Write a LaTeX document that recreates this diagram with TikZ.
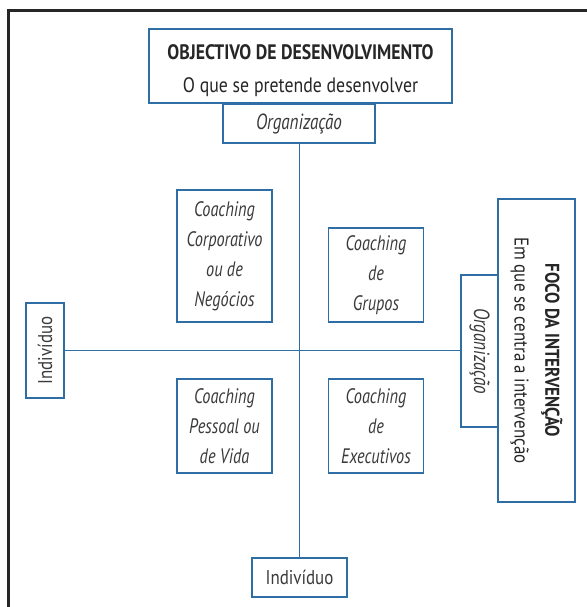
\documentclass[tikz,border=0pt]{standalone}
\usepackage{fontspec}
\setmainfont[FakeStretch=0.85]{PT Sans}
\newfontfamily\quadfont[FakeStretch=0.78]{PT Sans}
\usetikzlibrary{positioning}
\definecolor{boxblue}{HTML}{2F6EA5}
\definecolor{txtgray}{HTML}{3A3A3A}

\begin{document}
\begin{tikzpicture}[x=1bp, y=-1bp,
  box/.style={draw=boxblue, line width=1.5bp, fill=white, text=txtgray, inner sep=0pt, align=center},
  quad/.style={box, minimum width=95bp, minimum height=94bp, font=\quadfont\itshape\fontsize{21}{30}\selectfont},
  indlabel/.style={box, font=\fontsize{20}{29}\selectfont},
  orglabel/.style={box, font=\quadfont\itshape\fontsize{22}{29}\selectfont},
  axis/.style={draw=boxblue, line width=1.5bp}]
\useasboundingbox (0,0) rectangle (587,607);

% Frame
\draw[line width=3bp, black!85] (8,612) -- (8,11) -- (592,11);

% Titles
\node[box, minimum width=303bp, minimum height=74bp, font=\fontsize{21}{33}\selectfont, text=black!85] (obj) at (300.5,66)
  {\rule{0pt}{25bp}\textbf{OBJECTIVO DE DESENVOLVIMENTO}\\O que se pretende desenvolver};
\node[box, rotate=-90, minimum width=303bp, minimum height=77bp, font=\fontsize{20}{31}\selectfont, text=black!85] (foco) at (536.5,350.5)
  {\textbf{FOCO DA INTERVENÇÃO}\\Em que se centra a intervenção};

% Axis ends
\node[orglabel, minimum width=152bp, minimum height=39bp] (orgtop) at (299,123.5) {Organização};
\node[indlabel, minimum width=95bp, minimum height=39bp] (indbot) at (299.5,577.5) {Indivíduo};
\node[indlabel, rotate=90, minimum width=95bp, minimum height=38bp] (indleft) at (45,350.5) {Indivíduo};
\node[orglabel, rotate=-90, minimum width=152bp, minimum height=37bp] (orgright) at (479.5,351) {Organização};

% Axes
\draw[axis] (orgtop.south -| indbot.north) -- (indbot.north);
\draw[axis] (indleft.south) -- (indleft.south -| orgright.south);

% Quadrants
\node[quad, minimum height=132bp] (corp) at (224.5,256) {Coaching\\Corporativo\\ou de\\Negócios};
\node[quad] (grupos) at (376,275) {Coaching\\de\\Grupos};
\node[quad] (pessoal) at (224.5,426) {Coaching\\Pessoal ou\\de Vida};
\node[quad] (exec) at (376,426) {Coaching\\de\\Executivos};
\end{tikzpicture}
\end{document}
